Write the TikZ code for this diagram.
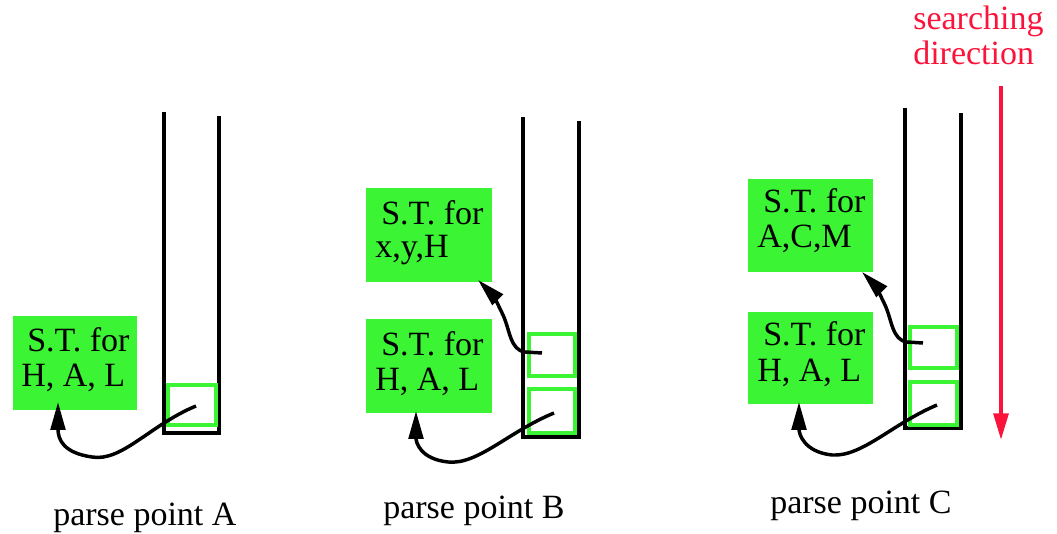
\documentclass[tikz,border=0pt]{standalone}
\usepackage{fontspec}
\setmainfont{Liberation Serif}
\usetikzlibrary{fit,arrows.meta}
\definecolor{stgreen}{RGB}{59,244,51}
\definecolor{searchred}{RGB}{250,20,60}
\tikzset{
  stbox/.style={fill=stgreen, draw=none, inner sep=0pt, outer sep=0pt},
  slot/.style={draw=stgreen, line width=3pt, inner sep=0pt, outer sep=0pt},
  stack/.style={line width=3pt, black, miter limit=10},
  lbl/.style={anchor=base west, inner sep=0pt, font=\fontsize{25.5}{30}\selectfont},
  ptr/.style={line width=2.6pt, -{Triangle[length=21pt,width=11pt]}},
  redarrow/.style={line width=3pt, searchred, -{Triangle[length=20pt,width=11pt]}}
}
\begin{document}
\begin{tikzpicture}[x=0.75pt,y=-0.75pt]
\useasboundingbox (0,0) rectangle (1057,534);
% ---------- parse point A ----------
\node[stbox, fit={(13,316)(137,410)}] (boxA) {};
\node[lbl] (tA1) at (27,352) {S.T. for};
\node[lbl] (tA2) at (21,387) {H, A, L};
\draw[stack] (164,112) -- (164,433) -- (219,433) -- (219,116);
\node[slot, fit={(168,385)(216,425)}] (sqA) {};
\coordinate (sA) at (196,406);
\draw[ptr] (sA) .. controls (150,425) and (122,462) .. (92,457)
   .. controls (64,453) and (58,440) .. ([xshift=33.75pt,yshift=6pt]boxA.south west);
\node[lbl] (pA) at (53,526) {parse point A};
% ---------- parse point B ----------
\node[stbox, fit={(366,188)(492,282)}] (boxB1) {};
\node[lbl] (tB1) at (381,225) {S.T. for};
\node[lbl] (tB2) at (375,258) {x,y,H};
\node[stbox, fit={(366,319)(492,413)}] (boxB2) {};
\node[lbl] (tB3) at (381,356) {S.T. for};
\node[lbl] (tB4) at (375,391) {H, A, L};
\draw[stack] (523,117) -- (523,437) -- (579,437) -- (579,121);
\node[slot, fit={(529,334)(575,376)}] (sqB1) {};
\node[slot, fit={(529,389)(575,433)}] (sqB2) {};
\coordinate (sB1) at (542,353);
\coordinate (sB2) at (554,413);
\draw[ptr] (sB1) -- (525,352) .. controls (510,350) and (510,330) .. (503,315)
   .. controls (498,304) and (492,294) .. ([xshift=84pt,yshift=1.5pt]boxB1.south west);
\draw[ptr] (sB2) .. controls (508,432) and (478,465) .. (448,462)
   .. controls (420,459) and (416,442) .. ([xshift=37.5pt,yshift=1.5pt]boxB2.south west);
\node[lbl] (pB) at (383,518) {parse point B};
% ---------- parse point C ----------
\node[stbox, fit={(748,179)(873,272)}] (boxC1) {};
\node[lbl] (tC1) at (763,213) {S.T. for};
\node[lbl] (tC2) at (757,248) {A,C,M};
\node[stbox, fit={(748,312)(873,404)}] (boxC2) {};
\node[lbl] (tC3) at (763,346) {S.T. for};
\node[lbl] (tC4) at (757,382) {H, A, L};
\draw[stack] (905,108) -- (905,428) -- (961,428) -- (961,113);
\node[slot, fit={(910,327)(957,368)}] (sqC1) {};
\node[slot, fit={(910,382)(957,425)}] (sqC2) {};
\coordinate (sC1) at (923,343);
\coordinate (sC2) at (937,405);
\draw[ptr] (sC1) -- (907,342) .. controls (892,340) and (892,320) .. (885,305)
   .. controls (880,294) and (874,284) .. ([xshift=85.5pt]boxC1.south west);
\draw[ptr] (sC2) .. controls (892,424) and (862,457) .. (832,455)
   .. controls (804,452) and (799,434) .. ([xshift=38.25pt,yshift=1.5pt]boxC2.south west);
\node[lbl] (pC) at (770,513) {parse point C};
% ---------- searching direction ----------
\node[lbl, text=searchred] (sd) at (913,30) {searching};
\node[lbl, text=searchred] (sd2) at (913,65) {direction};
\coordinate (rtop) at (1001,86);
\coordinate (rbot) at (1001,440);
\draw[redarrow] (rtop) -- (rbot);
\end{tikzpicture}
\end{document}
